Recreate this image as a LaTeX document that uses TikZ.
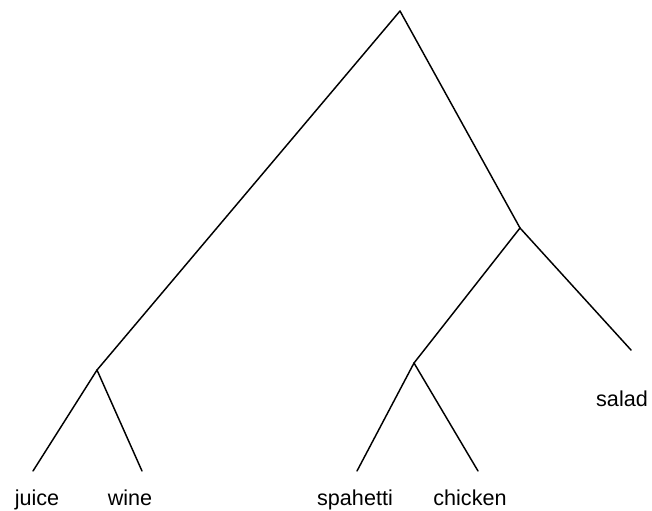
\documentclass[tikz,border=0pt]{standalone}
\usepackage{fontspec}
\setmainfont{Liberation Sans}

\tikzset{
  branch/.style = {line width=1.1pt, line cap=round},
  leaf/.style = {anchor=base, inner sep=0pt, font=\fontsize{16.2}{20}\selectfont}
}

\begin{document}
\begin{tikzpicture}[x=0.75pt, y=-0.75pt]
		\useasboundingbox (0,0) rectangle (652,510);
		\coordinate (Root) at (400,11);
		\coordinate (R) at (520,228);
		\coordinate (L) at (97,370);
		\coordinate (RL) at (414,363);
		\coordinate (Ljuice) at (33,471);
		\coordinate (Lwine) at (142,471);
		\coordinate (Lspahetti) at (357,471);
		\coordinate (Lchicken) at (478,471);
		\coordinate (Lsalad) at (631,350);
		\node[leaf] (juice) at (37,505.5) {juice};
		\node[leaf] (wine) at (130,505.5) {wine};
		\node[leaf] (spahetti) at (355,505.5) {spahetti};
		\node[leaf] (chicken) at (470,505.5) {chicken};
		\node[leaf] (salad) at (622,406) {salad};
		\draw[branch] (Root) -- (L);
		\draw[branch] (Root) -- (R);
		\draw[branch] (L) -- (Ljuice);
		\draw[branch] (L) -- (Lwine);
		\draw[branch] (R) -- (RL);
		\draw[branch] (R) -- (Lsalad);
		\draw[branch] (RL) -- (Lspahetti);
		\draw[branch] (RL) -- (Lchicken);
	\end{tikzpicture}
\end{document}
